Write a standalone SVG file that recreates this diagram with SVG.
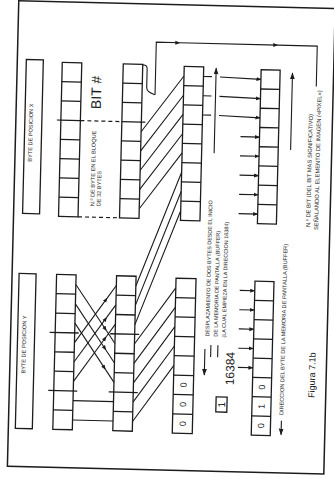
<svg xmlns="http://www.w3.org/2000/svg" width="334" height="478" viewBox="0 0 334 478">
<style>
.cell{fill:none;stroke:#1c1c1c;stroke-width:1.3}
.ln{fill:none;stroke:#1c1c1c;stroke-width:1.1}
.dash{fill:none;stroke:#1c1c1c;stroke-width:1.2;stroke-dasharray:4 3}
.t{font-family:"Liberation Sans",Arial,sans-serif;fill:#1c1c1c}
.s{font-size:5.6px}
</style>
<defs>
<marker id="ah" viewBox="0 0 10 10" refX="9" refY="5" markerWidth="5" markerHeight="5" markerUnits="userSpaceOnUse" orient="auto"><path d="M0,1 L10,5 L0,9 z" fill="#1c1c1c"/></marker>
<marker id="ahL" viewBox="0 0 10 10" refX="9" refY="5" markerWidth="7" markerHeight="7" markerUnits="userSpaceOnUse" orient="auto"><path d="M0,1.5 L10,5 L0,8.5 z" fill="#1c1c1c"/></marker>
</defs>
<rect width="334" height="478" fill="#fff"/>
<g transform="rotate(1.4 167 239)">
<rect id="frame" x="13" y="4.5" width="316.5" height="465.5" fill="none" stroke="#1c1c1c" stroke-width="1.5"/>

<g id="byte-pos-x">
<rect class="cell" x="22" y="63" width="17" height="154"/>
<text class="t s" transform="translate(30,136) rotate(-90)" text-anchor="middle">BYTE DE POSICION X</text>
</g>
<g id="byte-pos-y">
<rect class="cell" x="20" y="277" width="17" height="155"/>
<text class="t s" transform="translate(28.5,348) rotate(-90)" text-anchor="middle">BYTE DE POSICION Y</text>
</g>

<g id="col-x1">
<rect class="cell" x="58" y="65" width="19.5" height="154"/>
<path class="cell" d="M58,84.25h19.5M58,103.5h19.5M58,122.75h19.5M58,142h19.5M58,161.25h19.5M58,180.5h19.5M58,199.75h19.5"/>
</g>
<g id="col-x2">
<rect class="cell" x="119" y="65" width="19.5" height="154"/>
<path class="cell" d="M119,84.25h19.5M119,103.5h19.5M119,122.75h19.5M119,142h19.5M119,161.25h19.5M119,180.5h19.5M119,199.75h19.5"/>
</g>
<g id="col-low-offset">
<rect class="cell" x="180" y="66" width="19.5" height="154"/>
<path class="cell" d="M180,85.25h19.5M180,104.5h19.5M180,123.75h19.5M180,143h19.5M180,162.25h19.5M180,181.5h19.5M180,200.75h19.5"/>
</g>
<g id="col-low-addr">
<rect class="cell" x="257" y="67.5" width="19" height="154"/>
<path class="cell" d="M257,86.75h19M257,106h19M257,125.25h19M257,144.5h19M257,163.75h19M257,183h19M257,202.25h19"/>
</g>
<g id="col-y1">
<rect class="cell" x="57.5" y="277" width="19.5" height="155"/>
<path class="cell" d="M57.5,296.375h19.5M57.5,315.75h19.5M52,335.125h29M57.5,354.5h19.5M57.5,373.875h19.5M52,393.25h29M57.5,412.625h19.5"/>
</g>
<g id="col-y2">
<rect class="cell" x="117.5" y="277" width="19.5" height="155"/>
<path class="cell" d="M117.5,296.375h19.5M117.5,315.75h19.5M112.5,335.125h29M117.5,354.5h19.5M117.5,373.875h19.5M112.5,393.25h29M117.5,412.625h19.5"/>
</g>
<g id="col-high-offset">
<rect class="cell" x="177" y="278" width="20" height="155"/>
<path class="cell" d="M177,297.375h20M177,316.75h20M177,336.125h20M177,355.5h20M177,374.875h20M177,394.25h20M177,413.625h20"/>
<g class="t" font-size="9" text-anchor="middle">
<text transform="translate(190.2,384.6) rotate(-90)">0</text>
<text transform="translate(190.2,403.9) rotate(-90)">0</text>
<text transform="translate(190.2,423.3) rotate(-90)">0</text>
</g>
</g>
<g id="col-high-addr">
<rect class="cell" x="256" y="279" width="19" height="154"/>
<path class="cell" d="M256,298.25h19M256,317.5h19M256,336.75h19M256,356h19M256,375.25h19M256,394.5h19M256,413.75h19"/>
<g class="t" font-size="9" text-anchor="middle">
<text transform="translate(268.7,384.9) rotate(-90)">0</text>
<text transform="translate(268.7,404.1) rotate(-90)">1</text>
<text transform="translate(268.7,423.4) rotate(-90)">0</text>
</g>
</g>

<g id="labels">
<text class="t" font-size="14" transform="translate(97.5,94.2) rotate(-90)" text-anchor="middle">BIT #</text>
<text class="t s" transform="translate(93.4,208) rotate(-90)">N.º DE BYTE EN EL BLOQUE</text>
<text class="t s" transform="translate(99.8,208) rotate(-90)">DE 32 BYTES</text>
<text class="t" font-size="5.4" transform="translate(211.5,335.5) rotate(-90)">DESPLAZAMIENTO DE DOS BYTES DESDE EL INICIO</text>
<text class="t" font-size="5.4" transform="translate(219.8,335.5) rotate(-90)">DE LA MEMORIA DE PANTALLA (BUFFER)</text>
<text class="t" font-size="5.4" transform="translate(228,336) rotate(-90)">(LA CUAL EMPIEZA EN LA DIRECCION 16384)</text>
<text class="t" font-size="12" transform="translate(237.4,367) rotate(-90)" text-anchor="middle">16384</text>
<rect class="cell" x="220" y="395.7" width="11" height="15"/>
<text class="t" font-size="10" transform="translate(229.1,403.2) rotate(-90)" text-anchor="middle">1</text>
<text class="t s" transform="translate(287.6,412.2) rotate(-90)">DIRECCION DEL BYTE DE LA MEMORIA DE PANTALLA (BUFFER)</text>
<text class="t" font-size="5.8" transform="translate(309.7,223.6) rotate(-90)">N.º DE BIT (DEL BIT MAS SIGNIFICATIVO)</text>
<text class="t" font-size="5.8" transform="translate(317.8,226.4) rotate(-90)">SEÑALANDO AL ELEMENTO DE IMAGEN («PIXEL»)</text>
<text class="t" font-size="9" transform="translate(318.3,371.5) rotate(-90)" text-anchor="middle">Figura 7.1b</text>
</g>

<g id="connectors">
<path class="dash" d="M54,122.75H58M77.5,122.75H119M138.5,122.75H142.5M77.5,219H119"/>
<path class="ln" d="M138.5,65.5C142.5,65.5 143,67 143,70L143,88C143,92 146,93.5 151.5,95"/>
<path class="ln" d="M151.5,95V42.5H175" marker-end="url(#ah)"/>
<path class="ln" d="M175,42.5H273" marker-end="url(#ah)"/>
<path class="ln" d="M273,42.5H312.5V83"/>
<path class="ln" d="M138.5,132.4L180,75.6M138.5,151.6L180,94.9M138.5,170.9L180,114.1M138.5,190.1L180,133.4M138.5,209.4L180,152.6"/>
<path class="ln" d="M137,286.7L180,171.9M137,306.1L180,191.1M137,325.4L180,210.4"/>
<path class="ln" d="M137,344.8L177,287.7M137,364.2L177,307.1M137,383.6L177,326.4M137,402.9L177,345.8M137,422.3L177,365.2"/>
<path class="ln" d="M77,286.7L108.6,332" marker-end="url(#ah)"/>
<path class="ln" d="M77,306.1L108.6,351.4" marker-end="url(#ah)"/>
<path class="ln" d="M77,325.4L108.6,370.8" marker-end="url(#ah)"/>
<path class="ln" d="M77,344.8L108.6,299.5" marker-end="url(#ah)"/>
<path class="ln" d="M77,364.2L108.6,318.9" marker-end="url(#ah)"/>
<path class="ln" d="M77,383.6L108.6,338.2" marker-end="url(#ah)"/>
<path class="ln" d="M108.6,332L117.5,344.8M108.6,351.4L117.5,364.2M108.6,370.8L117.5,383.6M108.6,299.5L117.5,286.7M108.6,318.9L117.5,306.1M108.6,338.2L117.5,325.4"/>
<path class="ln" d="M77,402.9H117.5M77,422.3H117.5"/>
<path class="ln" d="M199.5,75.6H208M199.5,94.9H208M199.5,114.1H208"/>
<path class="ln" d="M216,75.8L257,77.1" marker-end="url(#ah)"/>
<path class="ln" d="M216,95.1L257,96.4" marker-end="url(#ah)"/>
<path class="ln" d="M216,114.3L257,115.6" marker-end="url(#ah)"/>
<path class="ln" d="M212,152V67" marker-end="url(#ahL)"/>
<path class="ln" d="M288.4,147V70" marker-end="url(#ahL)"/>
<path class="ln" d="M238,134.9H257" marker-end="url(#ah)"/>
<path class="ln" d="M238,154.1H257" marker-end="url(#ah)"/>
<path class="ln" d="M238,173.4H257" marker-end="url(#ah)"/>
<path class="ln" d="M238,192.6H257" marker-end="url(#ah)"/>
<path class="ln" d="M238,211.9H257" marker-end="url(#ah)"/>
<path class="ln" d="M241,288.6H256" marker-end="url(#ah)"/>
<path class="ln" d="M241,307.9H256" marker-end="url(#ah)"/>
<path class="ln" d="M241,327.1H256" marker-end="url(#ah)"/>
<path class="ln" d="M241,346.4H256" marker-end="url(#ah)"/>
<path class="ln" d="M241,365.6H256" marker-end="url(#ah)"/>
<path class="ln" d="M207.6,348V374" marker-end="url(#ahL)"/>
<path class="ln" d="M213.5,344V356M220.5,344V356"/>
<path class="ln" d="M285.8,418V432" marker-end="url(#ahL)"/>
</g>
</g>
</svg>
